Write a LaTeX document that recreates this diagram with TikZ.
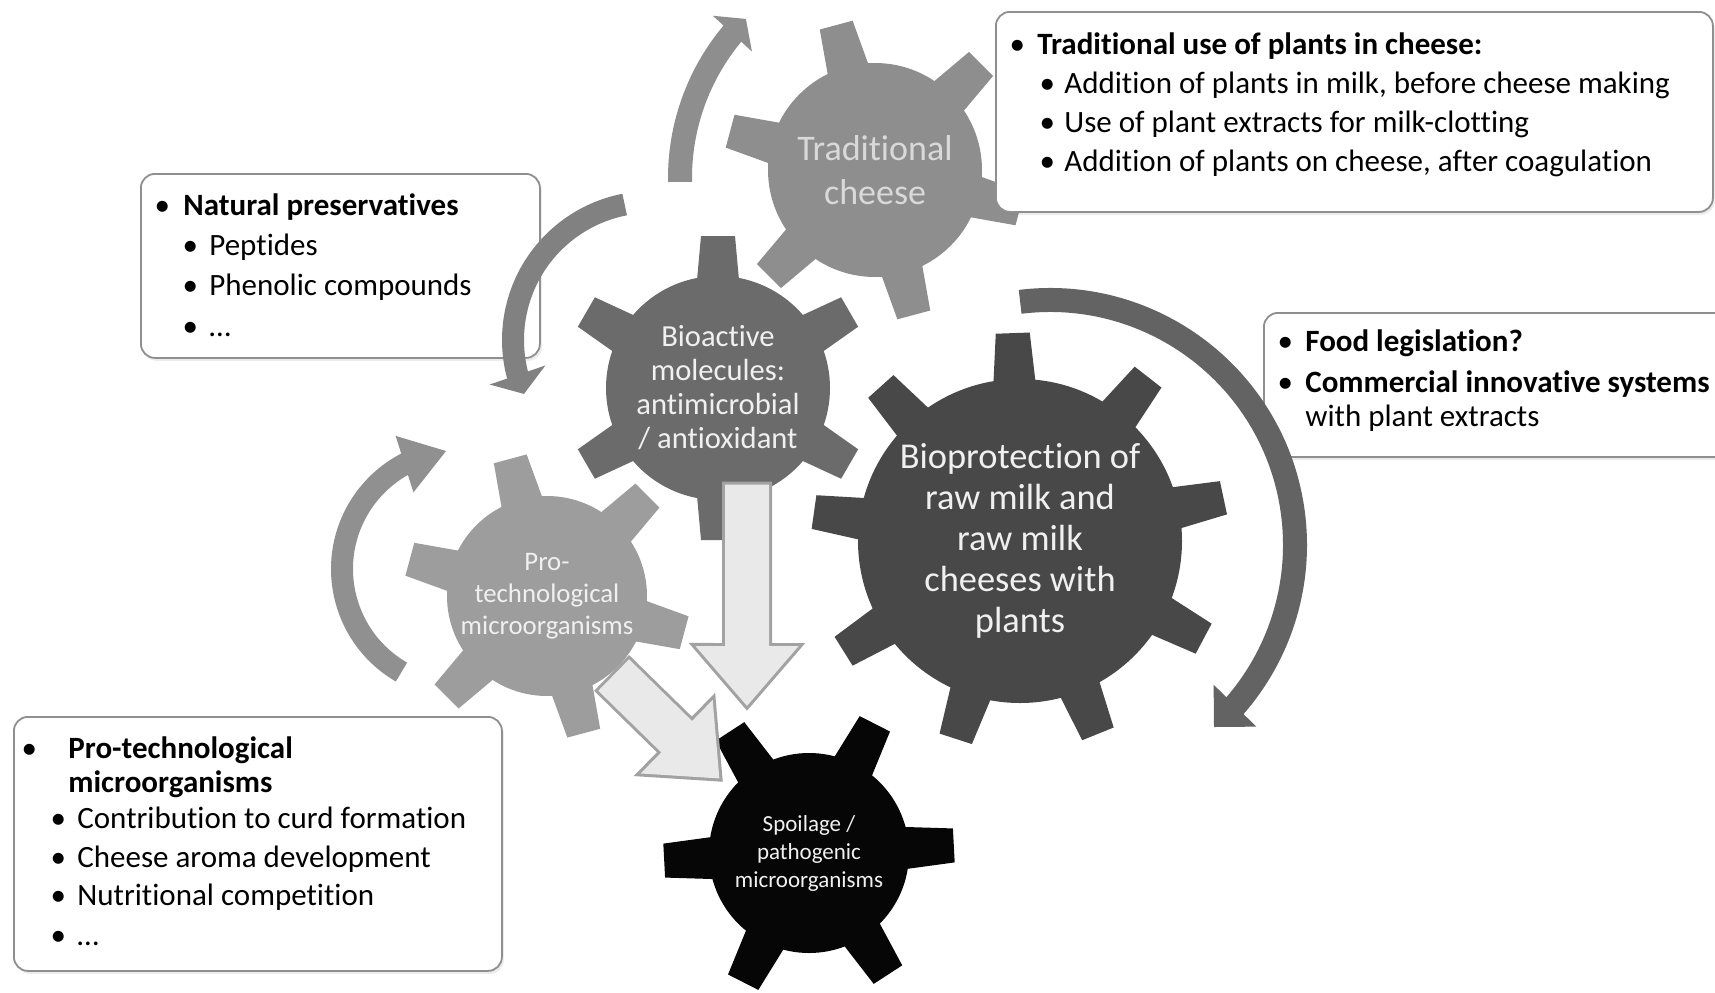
\documentclass[tikz,border=0pt]{standalone}
\usepackage{fontspec}
\setmainfont{Carlito}[Ligatures=NoCommon]
\usetikzlibrary{arrows.meta,bending,shadows}

\definecolor{tradgrey}{HTML}{8E8E8E}
\definecolor{activegrey}{HTML}{6B6B6B}
\definecolor{protechgrey}{HTML}{9D9D9D}
\definecolor{bioprotgrey}{HTML}{484848}
\definecolor{spoilgrey}{HTML}{060606}
\definecolor{boxline}{HTML}{8F8F8F}
\definecolor{blockline}{HTML}{A2A2A2}
\definecolor{blockfill}{HTML}{E9E9E9}

% bullet line: bullet centre, gap, text
\newcommand{\itm}[3]{\hspace*{#1}\makebox[0pt]{\textbullet}\hspace*{#2}#3}
\newcommand{\lst}[1]{\begin{tabular}[t]{@{}l@{}}#1\end{tabular}}
% teeth of a cog: centre, body radius, tip radius, count, first angle, colour
\newcommand{\cogteeth}[6]{%
  \foreach \k in {1,...,#4}{%
    \pgfmathsetmacro{\ang}{#5+(\k-1)*360/#4}
    \fill[#6, shift={#1}, rotate=\ang] (#2-15,-22) -- (#3,-17) -- (#3,17) -- (#2-15,22) -- cycle;
  }}

\begin{document}
\begin{tikzpicture}[x=0.5pt,y=0.5pt]
	\tikzset{
		cog/.style={circle, inner sep=0pt, align=center, text=white!94!black},
		listbox/.style={draw=boxline, line width=0.9pt, rounded corners=7pt, fill=white, anchor=north west,
			drop shadow={opacity=0.15, shadow xshift=1pt, shadow yshift=-1.5pt}},
		listtext/.style={anchor=base west, inner sep=0pt, font=\fontsize{15.5}{18}\selectfont},
		loopline/.style={line width=12pt},
		blockout/.style={line width=25pt, draw=blockline, -{Triangle[length=34pt,width=56pt]}},
		blockin/.style={line width=22pt, draw=blockfill, shorten <=1.5pt, shorten >=2.4pt,
			-{Triangle[length=30pt,width=49.5pt]}}
	}
	\useasboundingbox (0,0) rectangle (1715,-992);
	% cogs
	\cogteeth{(875,-170)}{107}{150}{6}{105}{tradgrey}
	\node[cog, fill=tradgrey, minimum size=107pt, text=white!85!black, font=\fontsize{18}{22}\selectfont] (trad) at (875,-170) {Traditional\\cheese};
	\cogteeth{(547,-596)}{100}{142}{6}{105}{protechgrey}
	\node[cog, fill=protechgrey, minimum size=100pt, font=\fontsize{13.4}{16}\selectfont] (protech) at (547,-596) {Pro-\\technological\\microorganisms};
	\cogteeth{(718,-388)}{112}{152}{6}{90}{activegrey}
	\node[cog, fill=activegrey, minimum size=112pt, font=\fontsize{15.3}{17}\selectfont] (bioactive) at (718,-388) {Bioactive\\molecules:\\antimicrobial\\/ antioxidant};
	\cogteeth{(1020,-541)}{162}{208}{9}{92}{bioprotgrey}
	\node[cog, fill=bioprotgrey, minimum size=162pt, font=\fontsize{18.2}{20.5}\selectfont] (bioprot) at (1020,-541) {Bioprotection of\\raw milk and\\raw milk\\cheeses with\\plants};
	\cogteeth{(809,-853)}{100}{145}{6}{3}{spoilgrey}
	\node[cog, fill=spoilgrey, minimum size=100pt, font=\fontsize{11.5}{14}\selectfont] (spoil) at (809,-853) {Spoilage /\\pathogenic\\microorganisms};
	% boxes
	\node[listbox, minimum width=358.5pt, minimum height=100pt] (tradbox) at (995,-11) {};
	\node[listtext] (tradlist) at (995,-54) {\lst{%
		\itm{11pt}{10pt}{\textbf{Traditional use of plants in cheese:}}\\[1.6pt]
		\itm{26pt}{8.5pt}{Addition of plants in milk, before cheese making}\\[1.6pt]
		\itm{26pt}{8.5pt}{Use of plant extracts for milk-clotting}\\[1.6pt]
		\itm{26pt}{8.5pt}{Addition of plants on cheese, after coagulation}}};
	\node[listbox, minimum width=199.5pt, minimum height=92pt] (natbox) at (140,-173) {};
	\node[listtext] (natlist) at (140,-215) {\lst{%
		\itm{11pt}{10.5pt}{\textbf{Natural preservatives}}\\[2.2pt]
		\itm{25pt}{9.5pt}{Peptides}\\[2.2pt]
		\itm{25pt}{9.5pt}{Phenolic compounds}\\[2.2pt]
		\itm{25pt}{9.5pt}{\dots}}};
	\node[listbox, minimum width=233.5pt, minimum height=72pt] (foodbox) at (1263,-312) {};
	\node[listtext] (foodlist) at (1263,-351) {\lst{%
		\itm{11pt}{10pt}{\textbf{Food legislation?}}\\[2.5pt]
		\itm{11pt}{10pt}{\textbf{Commercial innovative systems}}\\[-1pt]
		\hspace*{21pt}with plant extracts}};
	\node[listbox, minimum width=244pt, minimum height=127pt] (probox) at (13,-716) {};
	\node[listtext] (prolist) at (13,-758) {\lst{%
		\itm{8pt}{19.5pt}{\textbf{Pro-technological}}\\[-1pt]
		\hspace*{27.5pt}\textbf{microorganisms}\\
		\itm{22.5pt}{9.5pt}{Contribution to curd formation}\\[1.5pt]
		\itm{22.5pt}{9.5pt}{Cheese aroma development}\\[1pt]
		\itm{22.5pt}{9.5pt}{Nutritional competition}\\[2pt]
		\itm{22.5pt}{9.5pt}{\dots}}};
	% turning arrows
	\draw[loopline, draw=tradgrey, -{Triangle[length=10pt,width=26pt]}] (905,-178) ++(181:225) arc[start angle=181, end angle=135, radius=225];
	\draw[loopline, line width=11pt, draw=activegrey!85!white, -{Triangle[length=10pt,width=29pt]}] (651,-340) ++(101:138) arc[start angle=101, end angle=203, radius=138];
	\draw[loopline, line width=11pt, draw=protechgrey!92!black, -{Triangle[length=22pt,width=28pt]}] (461,-569) ++(240:119) arc[start angle=240, end angle=97, radius=119];
	\draw[loopline, draw=bioprotgrey!85!white, -{Triangle[length=15pt,width=29pt]}] (1050,-545) ++(97:245) arc[start angle=97, end angle=-48, radius=245];
	% block arrows to the spoilage cog
	\coordinate (downtip) at (747,-711);
	\coordinate (diagtip) at (723,-782);
	\draw[blockout] ([yshift=7.5pt]bioactive.-75) -- (downtip);
	\draw[blockin] ([yshift=7.5pt]bioactive.-75) -- (downtip);
	\draw[blockout] (protech.-50) -- (diagtip);
	\draw[blockin] (protech.-50) -- (diagtip);
\end{tikzpicture}
\end{document}
